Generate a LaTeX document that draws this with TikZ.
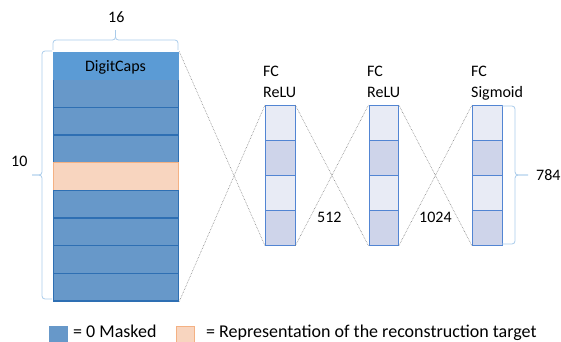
\documentclass[tikz,border=0pt]{standalone}
\usepackage{fontspec}
\setmainfont{Carlito}
\usepackage{tikz}
\usetikzlibrary{positioning}
\definecolor{maskblue}{HTML}{6798C9}
\definecolor{capsblue}{HTML}{5B9BD5}
\definecolor{rowline}{HTML}{2E6FB3}
\definecolor{targetfill}{HTML}{F8D5BF}
\definecolor{targetline}{HTML}{F4B183}
\definecolor{fclight}{HTML}{E8EBF5}
\definecolor{fcdark}{HTML}{CED4EA}
\definecolor{fcline}{HTML}{5285D3}
\definecolor{bracecol}{HTML}{A9CBEA}
\tikzset{capsrow/.style={draw=rowline,fill=maskblue,line width=1.2pt,minimum width=125pt,minimum height=27.7pt,inner sep=0,anchor=north west},
    targetrow/.style={capsrow,draw=targetline,fill=targetfill,line width=0.6pt},
    fccell/.style={draw=fcline,line width=0.8pt,minimum width=29.5pt,minimum height=35pt,inner sep=0,anchor=north west},
    accolade/.style={draw=bracecol,line width=0.8pt,rounded corners=3pt},
    crossline/.style={draw=gray,densely dotted,line width=0.6pt},
    txt/.style={font=\fontsize{16}{20}\selectfont,inner sep=0,anchor=base west},
    keytxt/.style={txt,font=\fontsize{18}{21}\selectfont}
}

\begin{document}
\begin{tikzpicture}[x=1pt,y=-1pt]
\useasboundingbox (0,0) rectangle (561,341);

%% capsule stack, row 5 is the target
\foreach \i in {1,...,9}
{
    \pgfmathsetmacro\rowy{51.5+(\i-1)*27.65}
    \ifnum\i=5
        \node (cap\i) [targetrow] at (53,\rowy) {};
    \else
        \node (cap\i) [capsrow] at (53,\rowy) {};
    \fi
}
\node (capTop) [capsrow,fill=capsblue,draw=capsblue] at (53,51.5) {};
\node (capName) [txt,anchor=base] at (115.5,71) {DigitCaps};

%% fully connected layers
\foreach \col/\x in {A/265,B/368.5,C/472}
{
    \foreach \j/\shade in {1/fclight,2/fcdark,3/fclight,4/fcdark}
    {
        \pgfmathsetmacro\celly{105+(\j-1)*35}
        \node (fc\col\j) [fccell,fill=\shade] at (\x,\celly) {};
    }
}

\node (lblA1) [txt] at (263,76) {FC};
\node (lblA2) [txt] at (263,97.5) {ReLU};
\node (lblB1) [txt] at (367,76) {FC};
\node (lblB2) [txt] at (367,97.5) {ReLU};
\node (lblC1) [txt] at (471,76) {FC};
\node (lblC2) [txt] at (471,97.5) {Sigmoid};

% crossing lines between layers
\draw [crossline] (capTop.north east) -- (fcA4.south west);
\draw [crossline] (cap9.south east) -- (fcA1.north west);
\draw [crossline] (fcA1.north east) -- (fcB4.south west);
\draw [crossline] (fcA4.south east) -- (fcB1.north west);
\draw [crossline] (fcB1.north east) -- (fcC4.south west);
\draw [crossline] (fcB4.south east) -- (fcC1.north west);

\node (size512) [txt] at (317,222) {512};
\node (size1024) [txt] at (419,222) {1024};

% braces
\coordinate (topTip) at (115.5,30);
\coordinate (leftTip) at (32,175);
\coordinate (rightTip) at (528,175);

\draw [accolade] (53,50) -- (53,40) -- (115.5,40) -- (topTip);
\draw [accolade] (178,50) -- (178,40) -- (115.5,40) -- (topTip);
\draw [accolade] (52,51) -- (42,51) -- (42,175) -- (leftTip);
\draw [accolade] (52,299) -- (42,299) -- (42,175) -- (leftTip);
\draw [accolade] (502,106) -- (515,106) -- (515,175) -- (rightTip);
\draw [accolade] (502,244) -- (515,244) -- (515,175) -- (rightTip);

\node (dim16) [txt] at (108,22) {16};
\node (dim10) [txt] at (11,166) {10};
\node (dim784) [txt] at (536,180.5) {784};

%% legend
\node (keyMask) [fill=maskblue,minimum size=19pt,inner sep=0,anchor=north west] at (49,326) {};
\node (keyMaskTxt) [keytxt] at (73,337.5) {= 0 Masked};
\node (keyTarget) [draw=targetline,fill=targetfill,line width=0.6pt,minimum size=18pt,inner sep=0,anchor=north west] at (175.5,326) {};
\node (keyTargetTxt) [keytxt] at (206,337.5) {= Representation of the reconstruction target};

\end{tikzpicture}
\end{document}
